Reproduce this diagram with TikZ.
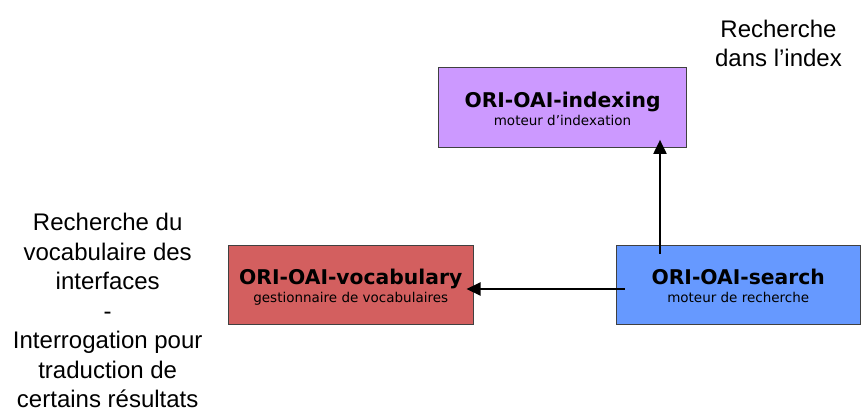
\documentclass[tikz,border=0pt]{standalone}
\usepackage{fontspec}
\setmainfont{Liberation Sans}
\newfontfamily\verd{DejaVu Sans}
\usetikzlibrary{arrows.meta}
\definecolor{idxfill}{HTML}{CC99FF}
\definecolor{vocfill}{HTML}{D35F5F}
\definecolor{srchfill}{HTML}{6699FF}
\definecolor{edgecol}{HTML}{404040}
\begin{document}
\begin{tikzpicture}[x=1pt,y=-1pt,
  box/.style={draw=edgecol,line width=1pt,minimum height=79.5pt,inner sep=0pt,outer sep=0pt},
  ttl/.style={font=\verd\bfseries\fontsize{20.3}{24}\selectfont,anchor=base,inner sep=0pt},
  sub/.style={font=\verd\fontsize{13.5}{16}\selectfont,anchor=base,inner sep=0pt},
  side/.style={font=\fontsize{24}{29.5}\selectfont,align=center,anchor=base,inner sep=0pt,text depth=0pt},
  arr/.style={line width=2pt,-{Triangle[length=14pt,width=13pt]}}]
\useasboundingbox (0,0) rectangle (862,410);
\node[box,fill=idxfill,minimum width=248pt] (idx) at (562.5,107.6) {};
\node[box,fill=vocfill,minimum width=245.5pt] (voc) at (350.75,284.75) {};
\node[box,fill=srchfill,minimum width=244.5pt] (srch) at (738.25,284.75) {};
\node[ttl] (idxt) at ([yshift=0pt]idx.center) {ORI-OAI-indexing};
\node[sub] (idxs) at ([yshift=-17.6pt]idx.center) {moteur d’indexation};
\node[ttl] (voct) at ([yshift=0pt]voc.center) {ORI-OAI-vocabulary};
\node[sub] (vocs) at ([yshift=-17.6pt]voc.center) {gestionnaire de vocabulaires};
\node[ttl] (srcht) at ([yshift=0pt]srch.center) {ORI-OAI-search};
\node[sub] (srchs) at ([yshift=-17.6pt]srch.center) {moteur de recherche};
\draw[arr,shorten <=-8.5pt,shorten >=-7.5pt] ([xshift=-78.25pt]srch.north) -- ([xshift=-78.25pt]srch.north |- idx.south);
\draw[arr,shorten <=-8.5pt,shorten >=-7pt] ([yshift=-4.25pt]srch.west) -- ([yshift=-4.25pt]srch.west -| voc.east);
\node[side] (lefttxt) at (107.7,407.6) {Recherche du\\vocabulaire des\\interfaces\\-\\Interrogation pour\\traduction de\\certains résultats};
\node[side] (righttxt) at (778.5,66.6) {Recherche\\dans l’index};
\end{tikzpicture}
\end{document}
